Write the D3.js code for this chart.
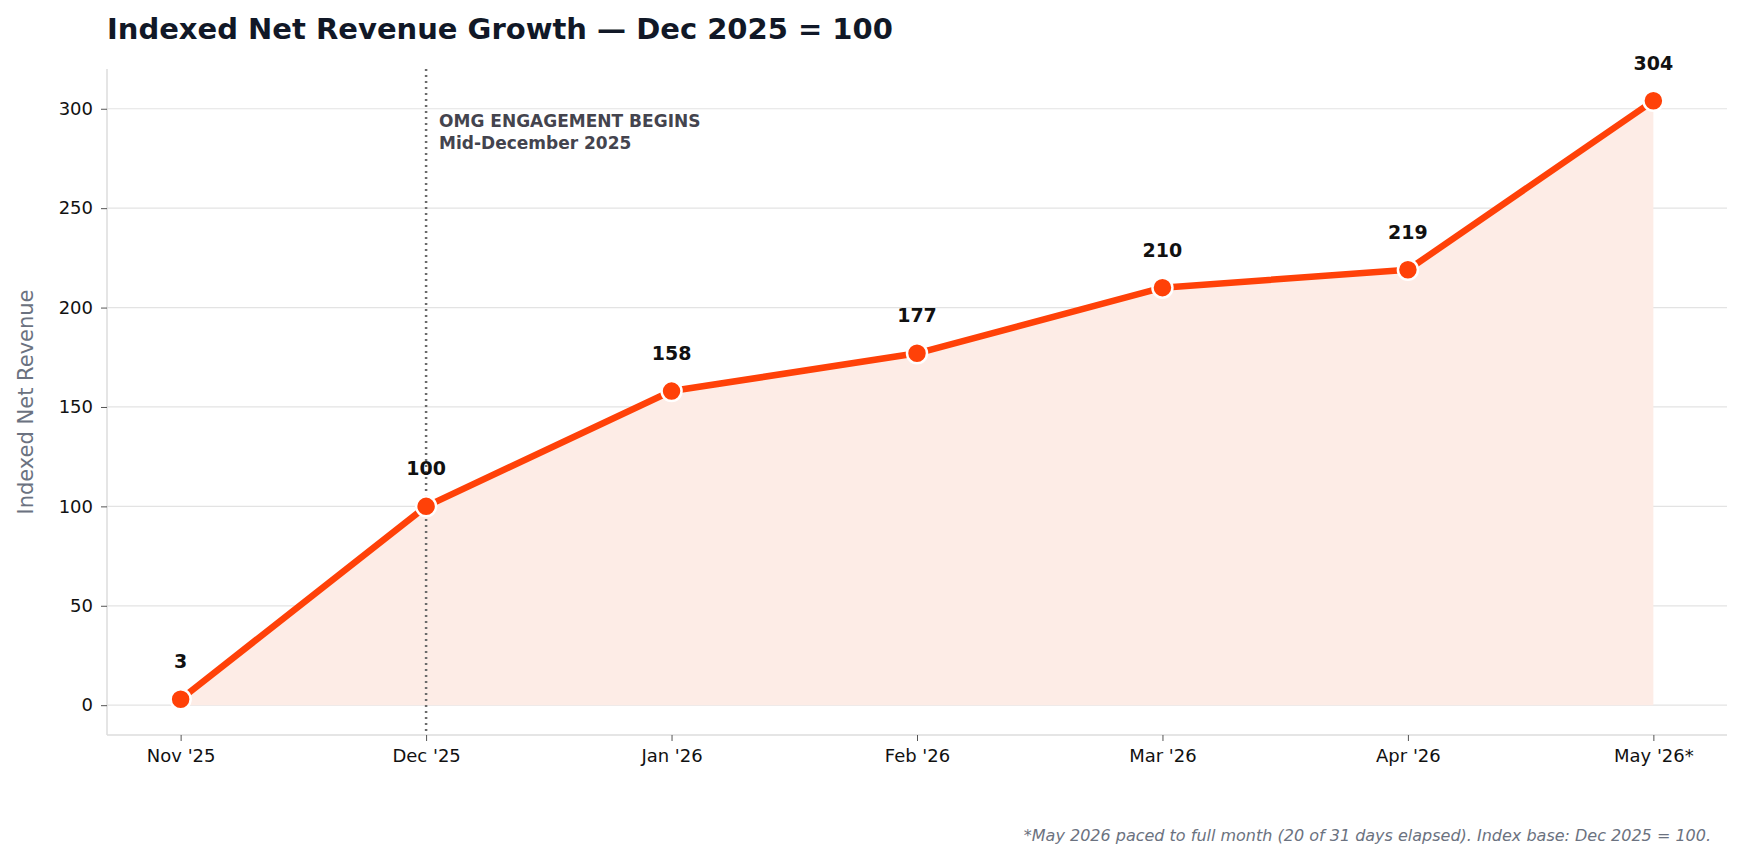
<!DOCTYPE html>
<html><head><meta charset="utf-8">
<script src="https://cdn.jsdelivr.net/npm/d3@7"></script>
<style>body{margin:0;background:#fff;font-family:"DejaVu Sans",sans-serif}</style>
</head><body><svg></svg>
<script>
const months = ["Nov '25", "Dec '25", "Jan '26", "Feb '26", "Mar '26", "Apr '26", "May '26*"];
const values = [3, 100, 158, 177, 210, 219, 304];
const yTicks = [0, 50, 100, 150, 200, 250, 300];

const width = 1744, height = 862;
const m = {left: 107, right: 17, top: 69, bottom: 127};
const svg = d3.select('svg').attr('width', width).attr('height', height);

const x = d3.scalePoint().domain(months).range([m.left, width - m.right]).padding(0.3);
const y = d3.scaleLinear().domain([-15, 320]).range([height - m.bottom, m.top]);

// grid
svg.append('g').selectAll('line').data(yTicks).enter().append('line')
  .attr('x1', m.left).attr('x2', width - m.right)
  .attr('y1', d => y(d)).attr('y2', d => y(d))
  .attr('stroke', '#e3e3e3').attr('stroke-width', 1.2);

// axes
const ya = svg.append('g').attr('transform', `translate(${m.left},0)`)
  .call(d3.axisLeft(y).tickValues(yTicks).tickSize(6).tickPadding(8));
const xa = svg.append('g').attr('transform', `translate(0,${height - m.bottom})`)
  .call(d3.axisBottom(x).tickSize(6).tickPadding(8));
[ya, xa].forEach(a => {
  a.select('.domain').attr('stroke', '#dddddd').attr('stroke-width', 1.5);
  a.selectAll('.tick line').attr('stroke', '#555');
  a.selectAll('text').attr('font-size', 18).attr('fill', '#111').attr('font-family', 'DejaVu Sans');
});
ya.select('.domain').attr('d', `M0,${m.top}V${height - m.bottom}`);
xa.select('.domain').attr('d', `M${m.left},0H${width - m.right}`);

// area
svg.append('path').datum(values)
  .attr('fill', '#fdece6')
  .attr('d', d3.area().x((d, i) => x(months[i])).y0(y(0)).y1(d => y(d)));

// annotation line
svg.append('line').attr('x1', x(months[1])).attr('x2', x(months[1]))
  .attr('y1', m.top).attr('y2', height - m.bottom)
  .attr('stroke', '#6b6b6b').attr('stroke-width', 2.5).attr('stroke-dasharray', '2,4');
svg.append('text').attr('x', x(months[1]) + 13).attr('y', 127)
  .attr('font-size', 17).attr('font-weight', 'bold').attr('fill', '#44444e').text('OMG ENGAGEMENT BEGINS');
svg.append('text').attr('x', x(months[1]) + 13).attr('y', 149)
  .attr('font-size', 17).attr('font-weight', 'bold').attr('fill', '#44444e').text('Mid-December 2025');

// line + points
svg.append('path').datum(values)
  .attr('fill', 'none').attr('stroke', '#ff4108').attr('stroke-width', 6.5).attr('stroke-linejoin', 'round')
  .attr('d', d3.line().x((d, i) => x(months[i])).y(d => y(d)));
svg.append('g').selectAll('circle').data(values).enter().append('circle')
  .attr('cx', (d, i) => x(months[i])).attr('cy', d => y(d)).attr('r', 10)
  .attr('fill', '#ff4108').attr('stroke', '#fff').attr('stroke-width', 2.5);
svg.append('g').selectAll('text').data(values).enter().append('text')
  .attr('x', (d, i) => x(months[i])).attr('y', d => y(d) - 31)
  .attr('text-anchor', 'middle').attr('font-size', 19).attr('font-weight', 'bold').attr('fill', '#111')
  .text(d => d);

// titles
svg.append('text').attr('x', m.left).attr('y', 39).attr('font-size', 29).attr('font-weight', 'bold')
  .attr('fill', '#111827').text('Indexed Net Revenue Growth \u2014 Dec 2025 = 100');
svg.append('text').attr('transform', `translate(33,${(m.top + height - m.bottom) / 2}) rotate(-90)`)
  .attr('text-anchor', 'middle').attr('font-size', 21).attr('fill', '#6b7280').text('Indexed Net Revenue');
svg.append('text').attr('x', 1711).attr('y', 841).attr('text-anchor', 'end')
  .attr('font-size', 16).attr('font-style', 'italic').attr('fill', '#6b7280')
  .text('*May 2026 paced to full month (20 of 31 days elapsed). Index base: Dec 2025 = 100.');
</script></body></html>
